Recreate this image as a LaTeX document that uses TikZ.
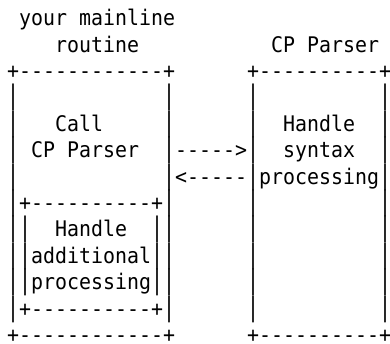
\documentclass[tikz,border=0pt]{standalone}
\usepackage{fontspec}
\usepackage{graphicx}
\setmonofont{DejaVu Sans Mono}[FakeStretch=0.926]
\newcommand{\vb}{\scalebox{1}[1.25]{|}}
\newcommand{\asciiat}[4]{\node[asc] (#1) at (#2,#3) {#4};}
\tikzset{asc/.style={font=\ttfamily\fontsize{21.5}{26}\selectfont, inner sep=0pt, text depth=0pt, anchor=base west}}

\begin{document}
\begin{tikzpicture}[x=12pt, y=-26.4pt]
\useasboundingbox (-7pt,-344.7pt) rectangle (383pt,-0.7pt);
\asciiat{main1}{1}{1}{your mainline}
\asciiat{main2}{4}{2}{routine}
\asciiat{cpname}{22}{2}{CP Parser}
\asciiat{maintop}{0}{3}{+------------+}
\asciiat{cptop}{20}{3}{+----------+}
\foreach \r in {4,...,12}{
  \foreach \c in {0,13,20,31}{
    \node[asc] (bar-\r-\c) at (\c,\r) {\vb};
  }
}
\foreach \r in {9,10,11}{
  \foreach \c in {1,12}{
    \node[asc] (inbar-\r-\c) at (\c,\r) {\vb};
  }
}
\asciiat{call1}{4}{5}{Call}
\asciiat{call2}{2}{6}{CP Parser}
\asciiat{syn1}{23}{5}{Handle}
\asciiat{syn2}{23}{6}{syntax}
\asciiat{syn3}{21}{7}{processing}
\asciiat{goarrow}{14}{6}{----->}
\asciiat{backarrow}{14}{7}{<-----}
\asciiat{addtop}{1}{8}{+----------+}
\asciiat{add1}{4}{9}{Handle}
\asciiat{add2}{2}{10}{additional}
\asciiat{add3}{2}{11}{processing}
\asciiat{addbot}{1}{12}{+----------+}
\asciiat{mainbot}{0}{13}{+------------+}
\asciiat{cpbot}{20}{13}{+----------+}
\end{tikzpicture}
\end{document}
